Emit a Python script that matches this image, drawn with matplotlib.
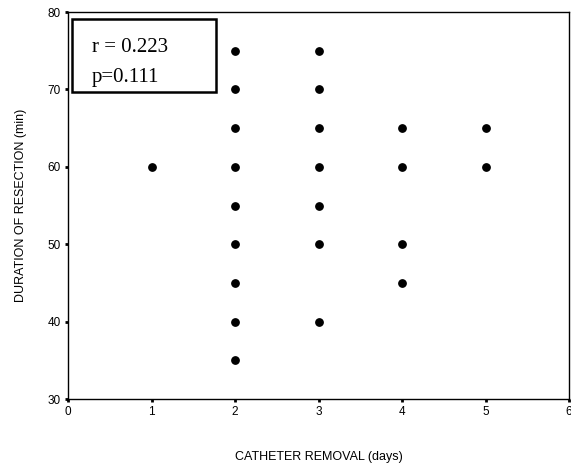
import matplotlib.pyplot as plt
from matplotlib.patches import Rectangle

# catheter removal day vs duration of resection (min)
days = [1, 2, 2, 2, 2, 2, 2, 2, 2, 2, 3, 3, 3, 3, 3, 3, 3, 4, 4, 4, 4, 5, 5]
duration = [60, 75, 70, 65, 60, 55, 50, 45, 40, 35,
            75, 70, 65, 60, 55, 50, 40, 65, 60, 50, 45, 65, 60]
x_ticks = [0, 1, 2, 3, 4, 5, 6]
y_ticks = [30, 40, 50, 60, 70, 80]

plt.rcParams['font.family'] = ['Liberation Sans', 'DejaVu Sans']

fig = plt.figure(figsize=(5.71, 4.69), dpi=100)
ax = fig.add_axes([68 / 571, 70 / 469, 501 / 571, 387 / 469])

ax.scatter(days, duration, s=28, color='black', zorder=3)

ax.set_xlim(0, 6)
ax.set_ylim(30, 80)
ax.set_xticks(x_ticks)
ax.set_yticks(y_ticks)
ax.tick_params(direction='out', length=2, width=2, labelsize=8.5, pad=3)
for s in ax.spines.values():
    s.set_linewidth(1.0)

ax.set_xlabel('CATHETER REMOVAL (days)', fontsize=9, labelpad=24)
ax.set_ylabel('DURATION OF RESECTION (min)', fontsize=9, labelpad=15)

# stats box
box = Rectangle((0.05, 69.6), 1.72, 9.5, fill=False, edgecolor='black',
                linewidth=1.8, zorder=4)
ax.add_patch(box)
ax.text(0.29, 74.8, 'r = 0.223', fontsize=15, family='Liberation Serif',
        va='baseline', zorder=4)
# the second line is cut short by the text frame, as in the original
clip = Rectangle((0.05, 70.9), 1.72, 8.0, transform=ax.transData)
t = ax.text(0.29, 71.0, 'p=0.111', fontsize=15, family='Liberation Serif',
            va='baseline', zorder=4)
t.set_clip_path(clip)

fig.savefig('out.png', dpi=100)
